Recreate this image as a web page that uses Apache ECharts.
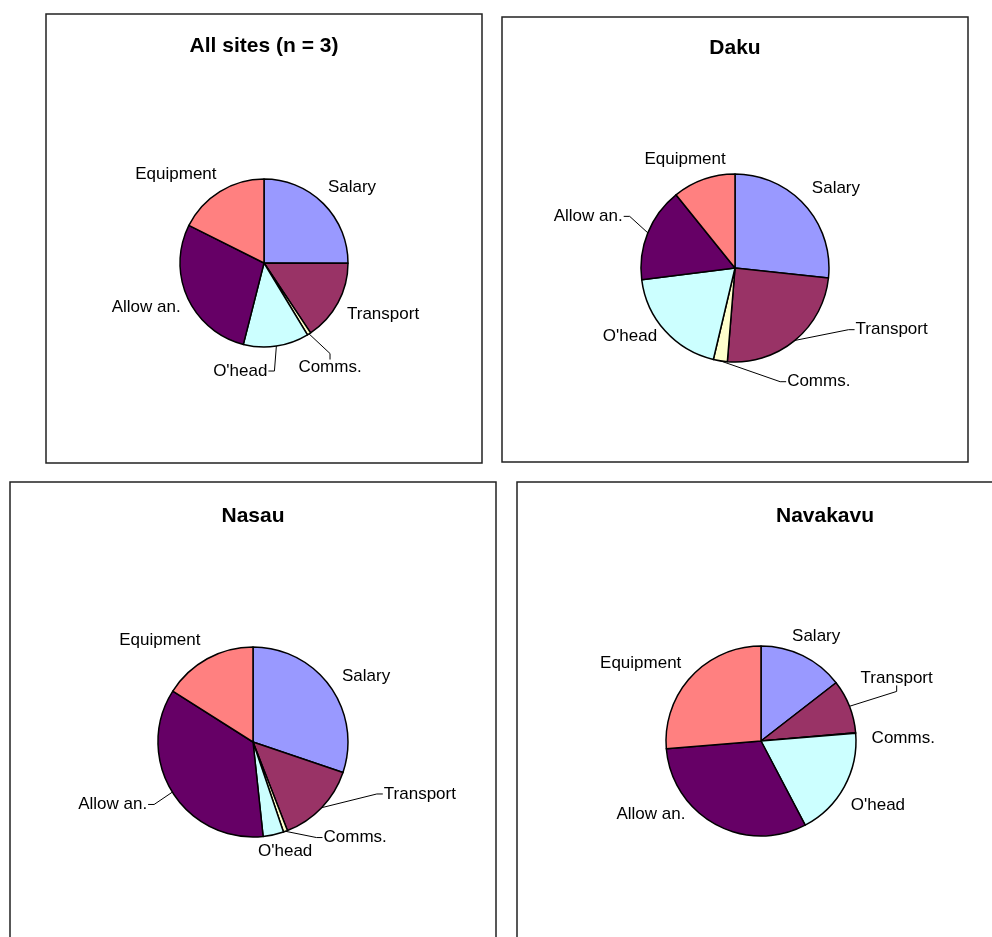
<!DOCTYPE html>
<html>
<head>
<meta charset="utf-8">
<script src="https://cdn.jsdelivr.net/npm/echarts@6/dist/echarts.min.js"></script>
<style>
  html, body { margin: 0; padding: 0; background: #fff; }
  #main { width: 992px; height: 937px; }
</style>
</head>
<body>
<div id="main"></div>
<script>
  // cost shares (%), clockwise from 12 o'clock
  const categories = ['Salary', 'Transport', 'Comms.', "O'head", 'Allow an.', 'Equipment']
  const allSites = [25.0, 15.6, 0.7, 12.6, 28.4, 17.6]
  const daku = [26.7, 24.6, 2.4, 19.3, 16.2, 10.8]
  const nasau = [30.2, 13.9, 0.7, 3.5, 35.7, 16.0]
  const navakavu = [14.5, 9.1, 0.1, 18.6, 31.4, 26.3]

  const titles = ['All sites (n = 3)', 'Daku', 'Nasau', 'Navakavu']

  const colors = ['#9999FF', '#993366', '#FFFFCC', '#CCFFFF', '#660066', '#FF8080']
  const font = '"Liberation Sans", Arial, sans-serif'

  // panel boxes [x, y, w, h], pie centre/radius, label nudges [dx, dy] in category order,
  // and which labels get a leader line (value = side of the label the line attaches to)
  const panels = [
    {
      box: [46, 14, 436, 449], center: [264, 263], r: 84, titleX: 264, titleY: 36,
      lines: { 'Comms.': 'top', "O'head": 'right' },
      nudge: [[-23, -8], [-17, 6], [-38, 23], [-84, 8], [23, 4], [22, -7]]
    },
    {
      box: [502, 17, 466, 445], center: [735, 268], r: 94, titleX: 735, titleY: 38,
      lines: { 'Transport': 'left', 'Comms.': 'left', 'Allow an.': 'right' },
      nudge: [[-21, -9], [34, -20], [151, 9], [20, -3], [5, -12], [45, -9]]
    },
    {
      box: [10, 482, 486, 470], center: [253, 742], r: 95, titleX: 253, titleY: 506,
      lines: { 'Transport': 'left', 'Comms.': 'left', 'Allow an.': 'right' },
      nudge: [[-17, -3], [31, -22], [-6, -5], [-37, -10], [4, 6], [18, -8]]
    },
    {
      box: [517, 482, 490, 470], center: [761, 741], r: 95, titleX: 825, titleY: 506,
      lines: { 'Transport': 'bottom' },
      nudge: [[-35, -9], [-19, -24], [-15, 6], [-23, 13], [-5, -20], [18, -5]]
    }
  ]
  const datasets = [allSites, daku, nasau, navakavu]

  // redraw the leader line from the slice edge to the moved label, Excel style
  function leader(start, rect, side) {
    let end, bend
    if (side === 'left') {
      end = [rect.x - 1, rect.y + rect.height / 2]
      bend = [end[0] - 6, end[1]]
    } else if (side === 'right') {
      end = [rect.x + rect.width + 1, rect.y + rect.height / 2]
      bend = [end[0] + 6, end[1]]
    } else if (side === 'top') {
      end = [rect.x + rect.width / 2, rect.y + 1]
      bend = [end[0], end[1] - 6]
    } else {
      end = [rect.x + rect.width / 2, rect.y + rect.height - 1]
      bend = [end[0], end[1] + 6]
    }
    return [start, bend, end]
  }

  const chart = echarts.init(document.getElementById('main'))

  chart.setOption({
    animation: false,
    color: colors,
    graphic: panels.map(p => ({
      type: 'rect',
      shape: { x: p.box[0], y: p.box[1], width: p.box[2], height: p.box[3] },
      style: { fill: 'none', stroke: '#222', lineWidth: 1.5 },
      silent: true
    })),
    title: panels.map((p, i) => ({
      text: titles[i],
      left: p.titleX,
      textAlign: 'center',
      top: p.titleY,
      padding: 0,
      textStyle: { fontFamily: font, fontSize: 21, fontWeight: 'bold', color: '#000' }
    })),
    series: panels.map((p, i) => ({
      type: 'pie',
      center: p.center,
      radius: p.r,
      startAngle: 90,
      clockwise: true,
      avoidLabelOverlap: true,
      itemStyle: { borderColor: '#000', borderWidth: 1.5 },
      label: {
        show: true,
        position: 'outside',
        color: '#000',
        fontFamily: font,
        fontSize: 17
      },
      labelLine: {
        show: true,
        length: 12,
        length2: 14,
        lineStyle: { color: '#000', width: 1 }
      },
      labelLayout: function (params) {
        const n = p.nudge[params.dataIndex]
        const out = { dx: n[0], dy: n[1] }
        const side = p.lines[categories[params.dataIndex]]
        if (side && params.labelLinePoints) {
          const r = params.labelRect
          const moved = { x: r.x + n[0], y: r.y + n[1], width: r.width, height: r.height }
          out.labelLinePoints = leader(params.labelLinePoints[0], moved, side)
        }
        return out
      },
      emphasis: { disabled: true },
      data: categories.map((c, j) => ({
        name: c,
        value: datasets[i][j],
        labelLine: { show: !!p.lines[c] }
      }))
    }))
  })
</script>
</body>
</html>
